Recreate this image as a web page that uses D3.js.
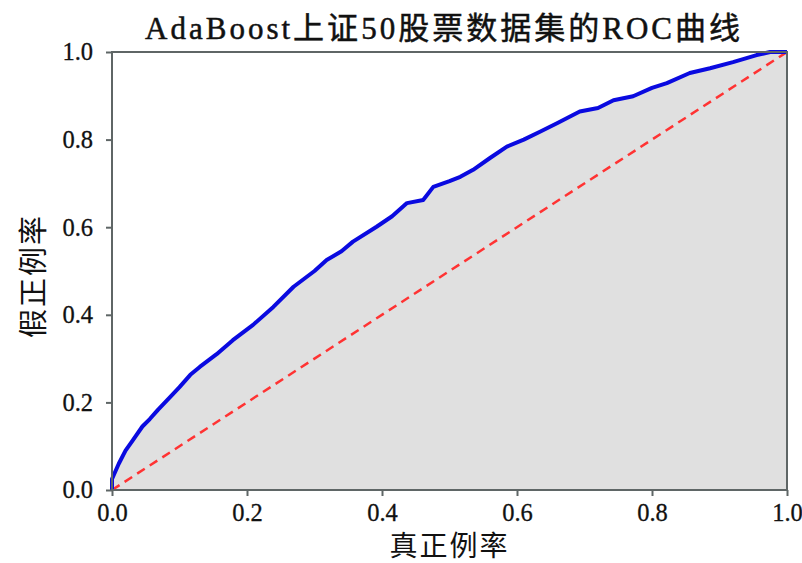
<!DOCTYPE html>
<html>
<head>
<meta charset="utf-8">
<script src="https://cdn.jsdelivr.net/npm/d3@7/dist/d3.min.js"></script>
<style>
  html, body { margin: 0; padding: 0; background: #fff; }
  svg { display: block; }
  .tick text { font-family: "Liberation Serif", "DejaVu Serif", serif; font-size: 24.5px; fill: #111; stroke: #111; stroke-width: 0.3px; }
  .axis .domain { display: none; }
  .axis line { stroke: #5f6666; stroke-width: 2; }
</style>
</head>
<body>
<svg id="chart"></svg>
<script>
// ROC curve for AdaBoost on SSE 50 stock dataset
var fpr = [0, 0, 0.01, 0.02, 0.031, 0.045, 0.056, 0.068, 0.086, 0.1, 0.116, 0.13, 0.155, 0.179, 0.209, 0.239,
           0.269, 0.3, 0.318, 0.34, 0.357, 0.392, 0.415, 0.437, 0.461, 0.476, 0.5, 0.516, 0.535, 0.56, 0.585,
           0.61, 0.634, 0.66, 0.693, 0.72, 0.743, 0.772, 0.8, 0.822, 0.856, 0.886, 0.92, 0.955, 0.975, 1.0];
var tpr = [0, 0.025, 0.06, 0.09, 0.114, 0.145, 0.162, 0.183, 0.212, 0.235, 0.263, 0.281, 0.31, 0.342, 0.377, 0.418,
           0.464, 0.5, 0.525, 0.545, 0.567, 0.601, 0.625, 0.655, 0.662, 0.692, 0.705, 0.715, 0.731, 0.758, 0.784,
           0.8, 0.818, 0.838, 0.864, 0.872, 0.89, 0.899, 0.918, 0.929, 0.952, 0.963, 0.977, 0.993, 1.0, 1.0];
var ticks = [0, 0.2, 0.4, 0.6, 0.8, 1.0];
var title = "AdaBoost上证50股票数据集的ROC曲线";
var xTitle = "真正例率", yTitle = "假正例率";

var W = 802, H = 563, M = { t: 52, r: 15, b: 73, l: 112 };
var svg = d3.select("#chart").attr("width", W).attr("height", H);
var x = d3.scaleLinear().domain([0, 1]).range([M.l, W - M.r]);
var y = d3.scaleLinear().domain([0, 1]).range([H - M.b, M.t]);
var pts = fpr.map(function (v, i) { return [v, tpr[i]]; });

// filled area under curve
svg.append("path").datum(pts)
  .attr("d", d3.area().x(function (d) { return x(d[0]); }).y0(y(0)).y1(function (d) { return y(d[1]); }))
  .attr("fill", "#e0e0e0");

// chance diagonal
svg.append("line")
  .attr("x1", x(0)).attr("y1", y(0)).attr("x2", x(1)).attr("y2", y(1))
  .attr("stroke", "#ff3333").attr("stroke-width", 2.5).attr("stroke-dasharray", "9,6");

// roc curve
svg.append("path").datum(pts)
  .attr("d", d3.line().x(function (d) { return x(d[0]); }).y(function (d) { return y(d[1]); }))
  .attr("fill", "none").attr("stroke", "#0a0ae0").attr("stroke-width", 4).attr("stroke-linejoin", "round");

// frame
svg.append("rect").attr("x", x(0)).attr("y", y(1)).attr("width", x(1) - x(0)).attr("height", y(0) - y(1))
  .attr("fill", "none").attr("stroke", "#5f6666").attr("stroke-width", 2);

// axes
svg.append("g").attr("class", "axis").attr("transform", "translate(0," + y(0) + ")")
  .call(d3.axisBottom(x).tickValues(ticks).tickFormat(d3.format(".1f")).tickSize(6).tickPadding(8));
svg.append("g").attr("class", "axis").attr("transform", "translate(" + x(0) + ",0)")
  .call(d3.axisLeft(y).tickValues(ticks).tickFormat(d3.format(".1f")).tickSize(6).tickPadding(13));

// titles
svg.append("text").attr("x", 145).attr("y", 39).attr("textLength", 595).attr("lengthAdjust", "spacing")
  .style("font-family", "'Liberation Serif', 'Noto Sans CJK SC', serif").style("font-size", "31px")
  .style("fill", "#111").style("stroke", "#111").style("stroke-width", "0.5px").text(title);
svg.append("text").attr("x", x(0.5)).attr("y", 556).attr("text-anchor", "middle")
  .style("font-family", "'Noto Sans CJK SC', sans-serif").style("font-size", "28px").style("letter-spacing", "2px")
  .style("fill", "#111").text(xTitle);
svg.append("text").attr("transform", "translate(44," + 276 + ") rotate(-90)").attr("text-anchor", "middle")
  .style("font-family", "'Noto Sans CJK SC', sans-serif").style("font-size", "29px").style("letter-spacing", "2px")
  .style("fill", "#111").text(yTitle);
</script>
</body>
</html>
